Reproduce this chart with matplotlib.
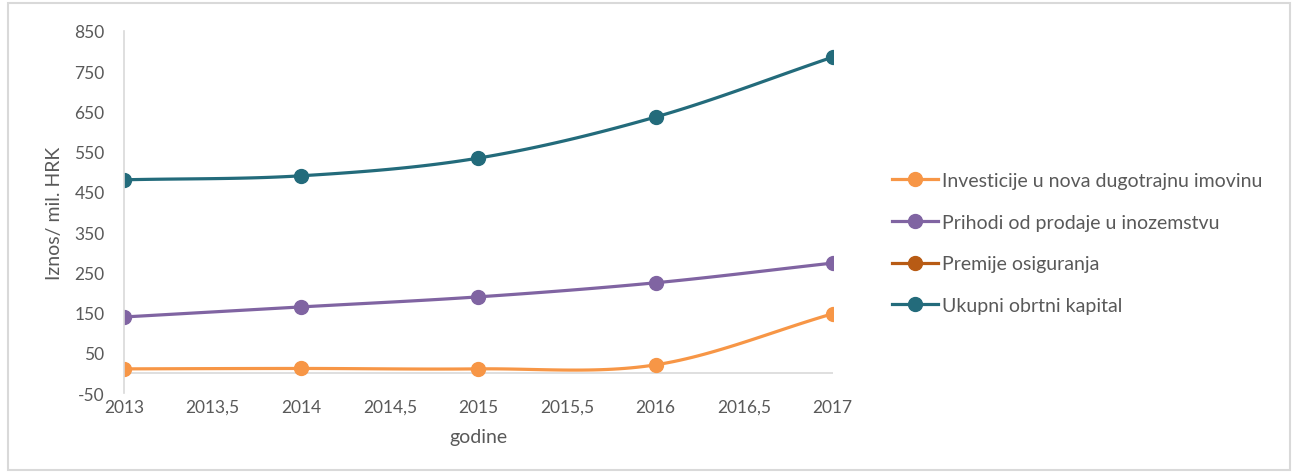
import numpy as np
import matplotlib.pyplot as plt
from matplotlib.patches import Rectangle

plt.rcParams['font.family'] = ['Lato', 'DejaVu Sans']
plt.rcParams['axes.unicode_minus'] = False

godine = [2013, 2014, 2015, 2016, 2017]
investicije = [10, 11, 10, 20, 147]
prihodi = [139, 164, 189, 224, 273]
premije = [np.nan, np.nan, np.nan, np.nan, np.nan]
ukupni = [480, 490, 534, 636, 785]

nazivi = ["Investicije u nova dugotrajnu imovinu",
          "Prihodi od prodaje u inozemstvu",
          "Premije osiguranja",
          "Ukupni obrtni kapital"]
boje = ['#F79646', '#8064A2', '#B85B14', '#236B7B']

x_ticks = [2013, 2013.5, 2014, 2014.5, 2015, 2015.5, 2016, 2016.5, 2017]
y_ticks = [-50, 50, 150, 250, 350, 450, 550, 650, 750, 850]


def smooth(x, y, n=30):
    # Catmull-Rom krivulja kroz tocke (kao "smoothed line" u Excelu)
    x = np.asarray(x, float)
    y = np.asarray(y, float)
    px = np.concatenate([[2 * x[0] - x[1]], x, [2 * x[-1] - x[-2]]])
    py = np.concatenate([[2 * y[0] - y[1]], y, [2 * y[-1] - y[-2]]])
    xs, ys = [], []
    t = np.linspace(0, 1, n)
    for i in range(1, len(px) - 2):
        for p, out in ((px, xs), (py, ys)):
            p0, p1, p2, p3 = p[i - 1], p[i], p[i + 1], p[i + 2]
            out.extend(0.5 * (2 * p1 + (-p0 + p2) * t
                              + (2 * p0 - 5 * p1 + 4 * p2 - p3) * t ** 2
                              + (-p0 + 3 * p1 - 3 * p2 + p3) * t ** 3))
    return np.array(xs), np.array(ys)


fig = plt.figure(figsize=(12.95, 4.77), dpi=100)
fig.patches.append(Rectangle((0.006, 0.012), 0.99, 0.98, transform=fig.transFigure,
                             fill=False, edgecolor='#D9D9D9', linewidth=1.5))
ax = fig.add_axes([0.0958, 0.174, 0.5472, 0.759])

for serija, naziv, boja in zip([investicije, prihodi, premije, ukupni], nazivi, boje):
    if np.all(np.isnan(serija)):
        ax.plot(godine, serija, color=boja, lw=2.3, marker='o', ms=10, label=naziv)
        continue
    sx, sy = smooth(godine, serija)
    ax.plot(sx, sy, color=boja, lw=2.3, solid_capstyle='round')
    ax.plot(godine, serija, color=boja, lw=2.3, marker='o', ms=10, ls='none')
    ax.plot([], [], color=boja, lw=2.3, marker='o', ms=10, label=naziv)

ax.axhline(0, color='#D9D9D9', lw=1.2, zorder=0)
ax.set_xlim(2013, 2017)
ax.set_ylim(-50, 850)
ax.set_xticks(x_ticks)
ax.set_xticklabels([('%g' % v).replace('.', ',') for v in x_ticks])
ax.set_yticks(y_ticks)
for s in ['top', 'right', 'bottom']:
    ax.spines[s].set_visible(False)
ax.spines['left'].set_color('#D9D9D9')
ax.spines['left'].set_linewidth(1.2)
ax.tick_params(axis='both', length=0, labelsize=12.5, colors='#595959')
ax.tick_params(axis='y', pad=14)
ax.tick_params(axis='x', pad=4)
ax.set_xlabel('godine', fontsize=14, color='#595959', labelpad=10)
ax.set_ylabel('Iznos/ mil. HRK', fontsize=14, color='#595959', labelpad=8)

leg = fig.legend(loc='upper left', bbox_to_anchor=(0.675, 0.674), frameon=False,
                 fontsize=14, labelcolor='#595959', handlelength=2.4,
                 handletextpad=0.2, labelspacing=1.27)

fig.savefig('out.png', dpi=100)
